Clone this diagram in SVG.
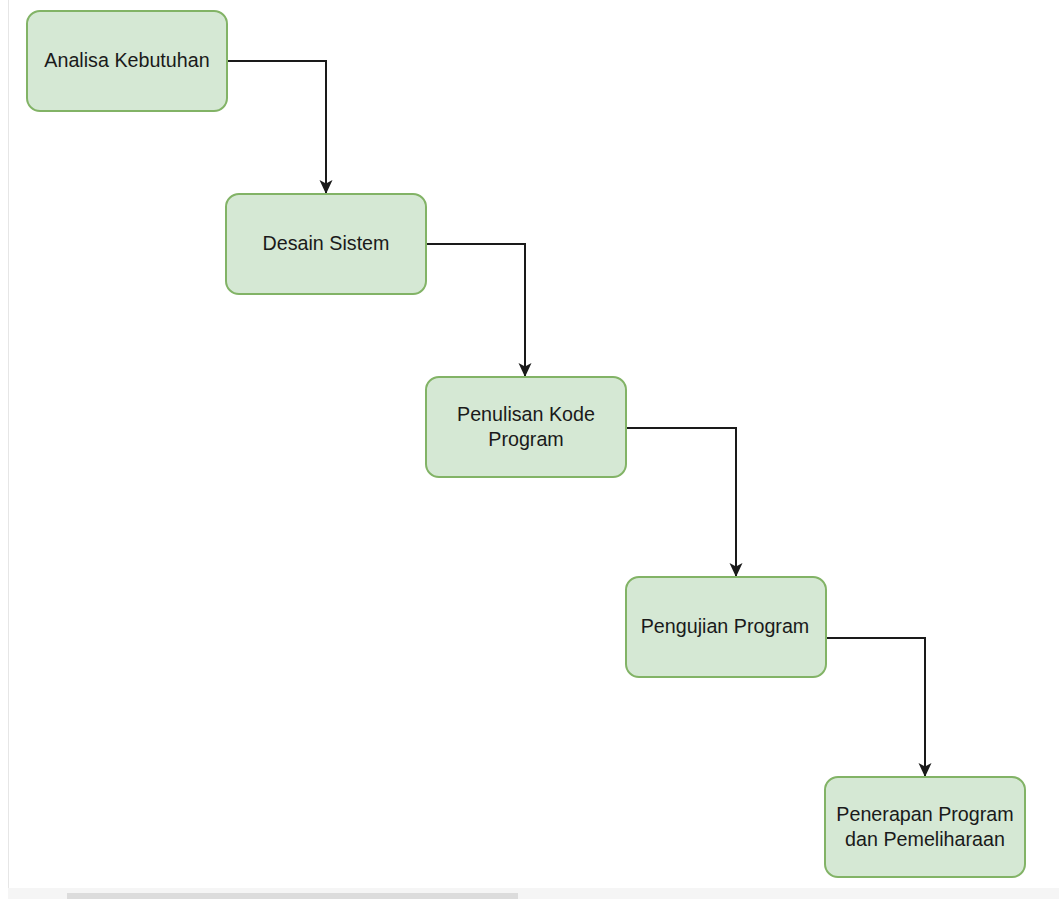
<svg xmlns="http://www.w3.org/2000/svg" width="1059" height="899" viewBox="0 0 1059 899">
<style>
.box{fill:#d5e8d4;stroke:#82b366;stroke-width:2}
.lbl{font-family:"Liberation Sans",Arial,sans-serif;font-size:19.7px;fill:#1a1a1a;text-anchor:middle}
.edge{fill:none;stroke:#1a1a1a;stroke-width:2}
</style>
<defs>
<marker id="arr" markerWidth="16" markerHeight="16" refX="14" refY="8" orient="auto" markerUnits="userSpaceOnUse">
<path d="M1,1.5 L15,8 L1,14.5 L4.5,8 Z" fill="#1a1a1a"/>
</marker>
</defs>
<rect x="0" y="0" width="1059" height="899" fill="#ffffff"/>
<line x1="8.5" y1="0" x2="8.5" y2="888" stroke="#e6e6e6" stroke-width="1"/>
<rect x="8" y="888" width="1051" height="11" fill="#f5f5f5"/>
<rect x="67" y="893" width="451" height="6" fill="#dcdcdc"/>
<g id="connectors">
<path class="edge" d="M227,61 H326 V193" marker-end="url(#arr)"/>
<path class="edge" d="M426,244 H525 V376" marker-end="url(#arr)"/>
<path class="edge" d="M626,428 H736 V576" marker-end="url(#arr)"/>
<path class="edge" d="M826,638 H925 V776" marker-end="url(#arr)"/>
</g>
<g id="node1">
<rect class="box" x="27" y="11" width="200" height="100" rx="13"/>
<text class="lbl" x="127" y="67">Analisa Kebutuhan</text>
</g>
<g id="node2">
<rect class="box" x="226" y="194" width="200" height="100" rx="13"/>
<text class="lbl" x="326" y="250">Desain Sistem</text>
</g>
<g id="node3">
<rect class="box" x="426" y="377" width="200" height="100" rx="13"/>
<text class="lbl" x="526" y="421">Penulisan Kode</text>
<text class="lbl" x="526" y="446">Program</text>
</g>
<g id="node4">
<rect class="box" x="626" y="577" width="200" height="100" rx="13"/>
<text class="lbl" x="725" y="633">Pengujian Program</text>
</g>
<g id="node5">
<rect class="box" x="825" y="777" width="200" height="100" rx="13"/>
<text class="lbl" x="925" y="821">Penerapan Program</text>
<text class="lbl" x="925" y="846">dan Pemeliharaan</text>
</g>
</svg>
